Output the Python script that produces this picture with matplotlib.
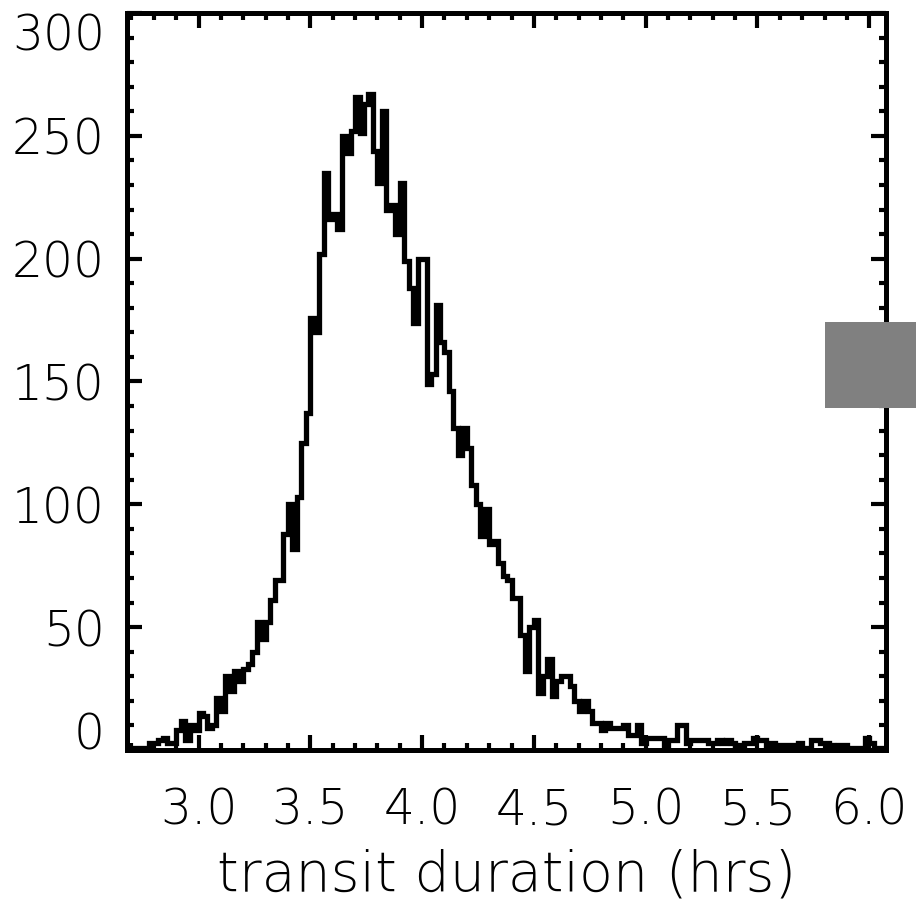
import numpy as np
import matplotlib
matplotlib.use("Agg")
import matplotlib.pyplot as plt
from matplotlib.patches import Rectangle
from matplotlib.ticker import MultipleLocator

# Histogram of transit durations (hrs); uniform bins
BIN_START = 2.68
BIN_WIDTH = 0.02
counts = [
    1, 1, 1, 1, 1, 3, 3, 4, 5, 3,            # 2.68 - 2.86
    3, 8, 12, 4, 10, 8, 15, 14, 9, 10,       # 2.88 - 3.06
    21, 16, 30, 24, 32, 28, 33, 35, 40, 52,  # 3.08 - 3.26
    45, 52, 61, 69, 69, 88, 100, 82, 103, 125,   # 3.28 - 3.46
    137, 176, 170, 202, 235, 216, 218, 212, 250, 243,  # 3.48 - 3.66
    252, 266, 251, 263, 267, 244, 231, 260, 220, 222,  # 3.68 - 3.86
    210, 231, 199, 188, 174, 200, 200, 149, 153, 181,  # 3.88 - 4.06
    166, 162, 146, 131, 120, 131, 123, 108, 100, 87,   # 4.08 - 4.26
    98, 84, 85, 76, 71, 69, 62, 62, 47, 32,            # 4.28 - 4.46
    50, 53, 23, 30, 37, 22, 28, 30, 30, 26,            # 4.48 - 4.66
    20, 16, 20, 16, 11, 11, 8, 11, 9, 9,               # 4.68 - 4.86
    9, 10, 6, 6, 10, 3, 5, 5, 5, 5,                    # 4.88 - 5.06
    2, 4, 4, 10, 10, 3, 4, 4, 4, 4,                    # 5.08 - 5.26
    3, 3, 4, 3, 4, 3, 2, 2, 3, 3,                      # 5.28 - 5.46
    5, 4, 4, 2, 3, 2, 2, 2, 2, 2,                      # 5.48 - 5.66
    3, 1, 1, 4, 4, 3, 3, 2, 1, 2,                      # 5.68 - 5.86
    2, 1, 1, 1, 1, 5, 3, 1, 1, 0,                      # 5.88 - 6.06
]
xticks = [3.0, 3.5, 4.0, 4.5, 5.0, 5.5, 6.0]
xtick_labels = ["3.0", "3.5", "4.0", "4.5", "5.0", "5.5", "6.0"]
yticks = [0, 50, 100, 150, 200, 250, 300]
ytick_labels = ["0", "50", "100", "150", "200", "250", "300"]
xlabel = "transit duration (hrs)"

edges = BIN_START + BIN_WIDTH * np.arange(len(counts) + 1)

W, H = 916, 911
fig = plt.figure(figsize=(W / 100, H / 100), dpi=100)
ax = fig.add_axes([127 / W, 1 - 750 / H, (886 - 127) / W, (750 - 13) / H])

ax.stairs(counts, edges, color="black", linewidth=3.8, baseline=None)

ax.set_xlim(2.68, 6.075)
ax.set_ylim(0, 300)
ax.set_xticks(xticks)
ax.set_xticklabels(xtick_labels)
ax.set_yticks(yticks)
ax.set_yticklabels(ytick_labels)
ax.xaxis.set_minor_locator(MultipleLocator(0.1))
ax.yaxis.set_minor_locator(MultipleLocator(10))

for s in ax.spines.values():
    s.set_linewidth(3.6)
    s.set_color("black")

ax.tick_params(which="both", direction="in", top=True, right=True, width=3.0, color="black")
ax.tick_params(which="major", length=11, labelsize=35)
ax.tick_params(which="minor", length=5)
ax.tick_params(axis="y", which="major", pad=16)
ax.tick_params(axis="x", which="major", pad=26)
for lab in ax.get_xticklabels() + ax.get_yticklabels():
    lab.set_fontweight("light")

ylabs = ax.get_yticklabels()
ylabs[0].set_verticalalignment("baseline")
ylabs[-1].set_verticalalignment("top")

ax.set_xlabel(xlabel, fontsize=40, fontweight="light", labelpad=10)

rect = Rectangle((825 / W, 1 - 408 / H), 91 / W, 86 / H, transform=fig.transFigure,
                 facecolor="#808080", edgecolor="none", zorder=10)
fig.add_artist(rect)

fig.savefig("out.png", dpi=100)
